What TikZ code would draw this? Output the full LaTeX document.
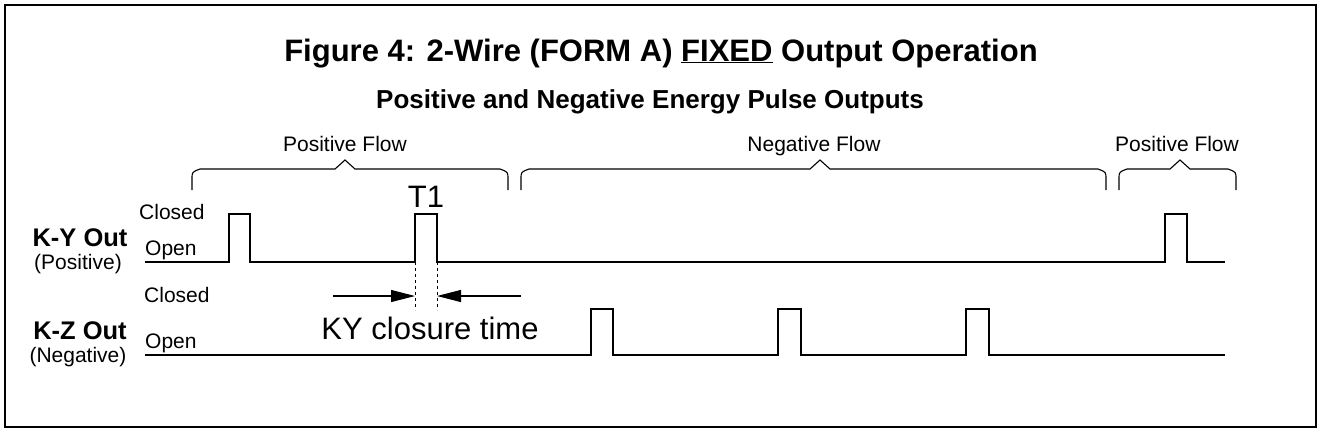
\documentclass[tikz,border=0pt]{standalone}
\usepackage{fontspec}
\setmainfont{Liberation Sans}
\usetikzlibrary{arrows.meta}
\begin{document}
\begin{tikzpicture}[x=1pt,y=-1pt,
  sig/.style={line width=2.6pt,line join=miter},
  brc/.style={line width=1.1pt},
  lbl/.style={font=\fontsize{21}{21}\selectfont,inner sep=0pt,anchor=base},
  blab/.style={font=\fontsize{25.5}{25.5}\selectfont\bfseries,inner sep=0pt,anchor=base},
  big/.style={font=\fontsize{31}{31}\selectfont,inner sep=0pt,anchor=base}]
\useasboundingbox (0,0) rectangle (1322,432);
\draw[line width=1.5pt] (5,5) rectangle (1316,427);
\node[font=\fontsize{31}{31}\selectfont\bfseries,inner sep=0pt,anchor=base] (title) at (661,61)
  {Figure 4: 2-Wire (FORM A) \underline{FIXED} Output Operation};
\node[font=\fontsize{26}{26}\selectfont\bfseries,inner sep=0pt,anchor=base] (sub) at (650,108) {Positive and Negative Energy Pulse Outputs};
\newcommand\mybrace[3]{%
 \draw[brc] (#1,190) -- (#1,179) .. controls (#1,172) .. (#1+8,169) -- (#2-10,169) -- (#2,160) -- (#2+10,169) -- (#3-8,169) .. controls (#3,172) .. (#3,179) -- (#3,190);}
\mybrace{192}{345}{508}
\mybrace{521}{820}{1106}
\mybrace{1119}{1180}{1236}
\node[lbl] (pf1) at (345,151) {Positive Flow};
\node[lbl] (nf) at (814,151) {Negative Flow};
\node[lbl] (pf2) at (1177,151) {Positive Flow};
\draw[sig] (145,262) -- (229,262) -- (229,214) -- (250,214) -- (250,262) -- (415,262) -- (415,214) -- (437,214) -- (437,262) -- (1165,262) -- (1165,214) -- (1187,214) -- (1187,262) -- (1225,262);
\draw[sig] (145,355) -- (591,355) -- (591,309) -- (613,309) -- (613,355) -- (778,355) -- (778,309) -- (801,309) -- (801,355) -- (966,355) -- (966,309) -- (989,309) -- (989,355) -- (1225,355);
\coordinate (d1) at (415,262); \coordinate (d1b) at (415,310);
\coordinate (d2) at (437,262); \coordinate (d2b) at (437,310);
\draw[dashed,line width=0.9pt] (d1) -- (d1b);
\draw[dashed,line width=0.9pt] (d2) -- (d2b);
\coordinate (a1) at (333,296); \coordinate (a1e) at (415,296);
\coordinate (a2) at (521,296); \coordinate (a2e) at (437,296);
\draw[line width=1.1pt,-{Triangle[length=24pt,width=12pt]}] (a1) -- (a1e);
\draw[line width=1.1pt,-{Triangle[length=24pt,width=12pt]}] (a2) -- (a2e);
\node[big] (t1) at (426,207) {T1};
\node[big] (kyc) at (430,339) {KY closure time};
\node[lbl,anchor=base west] (c1) at (139,219) {Closed};
\node[lbl,anchor=base west] (o1) at (145,255) {Open};
\node[lbl,anchor=base west] (c2) at (144,302) {Closed};
\node[lbl,anchor=base west] (o2) at (145,348) {Open};
\node[blab] (ky) at (80,246) {K-Y Out};
\node[lbl] (kyp) at (78,269) {(Positive)};
\node[blab] (kz) at (80,339) {K-Z Out};
\node[lbl] (kzn) at (78,362) {(Negative)};
\end{tikzpicture}
\end{document}
